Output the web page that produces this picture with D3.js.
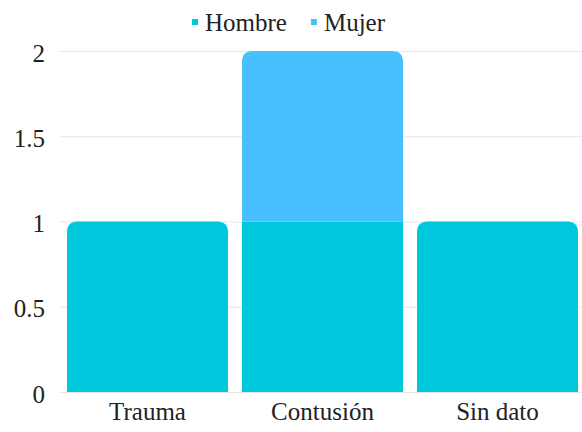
<!DOCTYPE html>
<html>
<head>
<meta charset="utf-8">
<script src="https://cdn.jsdelivr.net/npm/d3@7"></script>
<style>
  body { margin: 0; background: #fff; }
</style>
</head>
<body>
<div id="chart"></div>
<script>
const categories = ['Trauma', 'Contusión', 'Sin dato']
const hombre = [1, 1, 1]
const mujer = [0, 1, 0]
const seriesNames = ['Hombre', 'Mujer']
const yTicks = [0, 0.5, 1, 1.5, 2]

const colors = { Hombre: '#00c8dc', Mujer: '#48c0ff' }

const dimensions = {
  width: 582,
  height: 432,
  margin: { top: 51, bottom: 40, right: -3, left: 60 }
}
dimensions.ctrWidth = dimensions.width - dimensions.margin.left - dimensions.margin.right
dimensions.ctrHeight = dimensions.height - dimensions.margin.top - dimensions.margin.bottom

const rows = categories.map((c, i) => ({ cat: c, Hombre: hombre[i], Mujer: mujer[i] }))
const stacked = d3.stack().keys(seriesNames)(rows)

const svg = d3.select('#chart')
  .append('svg')
  .attr('width', dimensions.width)
  .attr('height', dimensions.height)
  .attr('font-family', 'Liberation Serif')
  .attr('font-size', 25)

const ctr = svg.append('g')
  .attr('transform', `translate(${dimensions.margin.left}, ${dimensions.margin.top})`)

const xScale = d3.scaleBand()
  .domain(categories)
  .range([0, dimensions.ctrWidth])
  .paddingInner(0.08)
  .paddingOuter(0.04)

const yScale = d3.scaleLinear()
  .domain([0, 2])
  .range([dimensions.ctrHeight, 0])

// grid
ctr.append('g')
  .selectAll('line')
  .data(yTicks)
  .join('line')
  .attr('x1', 0)
  .attr('x2', dimensions.ctrWidth)
  .attr('y1', d => yScale(d) + 0.5)
  .attr('y2', d => yScale(d) + 0.5)
  .attr('stroke', '#e6e6e6')

// only the top segment of a stack is rounded
const topKey = (i) => {
  let k = null
  seriesNames.forEach(s => { if (rows[i][s] > 0) k = s })
  return k
}

const r = 11
const barPath = (x, y0, y1, w, rounded) => {
  const h = y0 - y1
  if (h <= 0) return ''
  if (!rounded) return `M${x},${y0}V${y1}H${x + w}V${y0}Z`
  const rr = Math.min(r, h, w / 2)
  return `M${x},${y0}V${y1 + rr}Q${x},${y1} ${x + rr},${y1}H${x + w - rr}Q${x + w},${y1} ${x + w},${y1 + rr}V${y0}Z`
}

stacked.forEach(layer => {
  ctr.append('g')
    .selectAll('path')
    .data(layer)
    .join('path')
    .attr('fill', colors[layer.key])
    .attr('d', (d, i) => barPath(
      xScale(categories[i]), yScale(d[0]), yScale(d[1]), xScale.bandwidth(), topKey(i) === layer.key))
})

// axes
const yAxis = d3.axisLeft(yScale)
  .tickValues(yTicks)
  .tickSize(0)
  .tickPadding(15)
  .tickFormat(d3.format('~g'))

ctr.append('g')
  .call(yAxis)
  .attr('font-family', null)
  .attr('font-size', null)
  .call(g => g.select('.domain').remove())
  .selectAll('text')
  .attr('dy', '0.4em')
  .attr('fill', '#222')

const xAxis = d3.axisBottom(xScale).tickSize(0).tickPadding(10)

ctr.append('g')
  .attr('transform', `translate(0, ${dimensions.ctrHeight})`)
  .call(xAxis)
  .attr('font-family', null)
  .attr('font-size', null)
  .call(g => g.select('.domain').remove())
  .selectAll('text')
  .attr('fill', '#222')

// legend
const legend = svg.append('g')
let lx = 0
seriesNames.forEach(name => {
  const g = legend.append('g').attr('transform', `translate(${lx}, 0)`)
  g.append('rect')
    .attr('y', -3).attr('width', 6).attr('height', 6)
    .attr('fill', colors[name])
  const t = g.append('text')
    .attr('x', 13)
    .attr('dy', '0.35em')
    .attr('fill', '#222')
    .text(name)
  lx += 13 + t.node().getComputedTextLength() + 24
})
legend.attr('transform', 'translate(192, 22)')
</script>
</body>
</html>
